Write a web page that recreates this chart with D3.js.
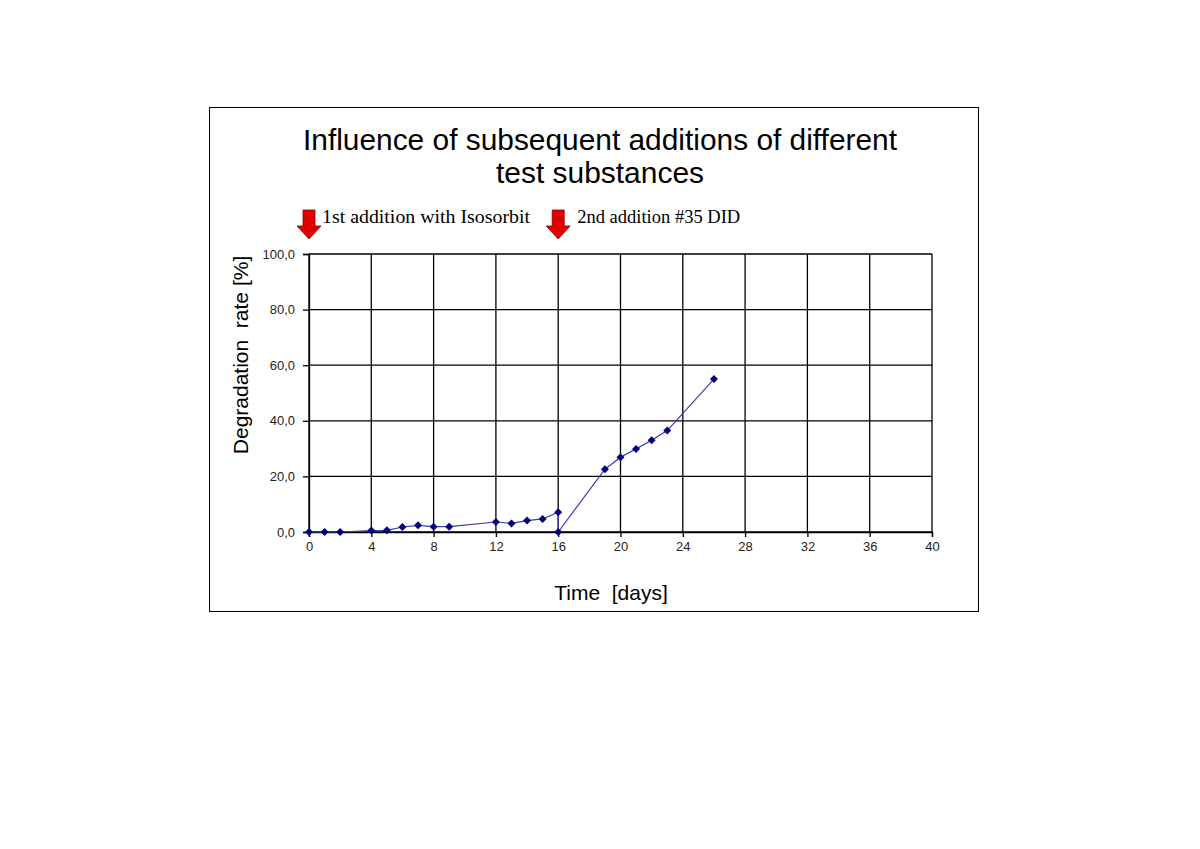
<!DOCTYPE html>
<html>
<head>
<meta charset="utf-8">
<script src="https://cdn.jsdelivr.net/npm/d3@7"></script>
<style>
  body { margin: 0; background: #fff; }
  svg { display: block; }
</style>
</head>
<body>
<div id="chart"></div>
<script>
// data
var days = [0, 1, 2, 4, 5, 6, 7, 8, 9, 12, 13, 14, 15, 16, 16, 19, 20, 21, 22, 23, 26];
var rates = [0, 0, 0, 0.5, 0.6, 1.8, 2.4, 1.9, 1.9, 3.6, 3.1, 4.1, 4.7, 7.1, 0, 22.6, 26.9, 29.9, 33.0, 36.5, 55.0];
var xTicks = [0, 4, 8, 12, 16, 20, 24, 28, 32, 36, 40];
var yTicks = [0, 20, 40, 60, 80, 100];
var additionDays = [0, 16];
var additionLabels = ["1st addition with Isosorbit", "2nd addition #35 DID"];

var W = 1200, H = 849;
var plot = {left: 309, right: 932, top: 254, bottom: 532};
var sans = "Arial, 'Liberation Sans', sans-serif";

var svg = d3.select("#chart").append("svg")
    .attr("width", W).attr("height", H);

// outer frame
svg.append("rect")
    .attr("x", 209.5).attr("y", 107.5)
    .attr("width", 769).attr("height", 504)
    .style("fill", "none").style("stroke", "#000").style("stroke-width", 1);

var x = d3.scaleLinear().domain([0, 40]).range([plot.left, plot.right]);
var y = d3.scaleLinear().domain([0, 100]).range([plot.bottom, plot.top]);

// grid
var grid = svg.append("g").attr("class", "grid");
grid.selectAll(".vl").data(xTicks).enter().append("line")
    .attr("x1", function(d){ return x(d); }).attr("x2", function(d){ return x(d); })
    .attr("y1", plot.top).attr("y2", plot.bottom)
    .style("stroke", "#000").style("stroke-width", 1.3);
grid.selectAll(".hl").data(yTicks).enter().append("line")
    .attr("x1", plot.left).attr("x2", plot.right)
    .attr("y1", function(d){ return y(d); }).attr("y2", function(d){ return y(d); })
    .style("stroke", "#000").style("stroke-width", 1.3);

var fmt = function(d){ return d3.format(".1f")(d).replace(".", ","); };

// axes
var xAxis = svg.append("g")
    .attr("transform", "translate(0," + plot.bottom + ")")
    .call(d3.axisBottom(x).tickValues(xTicks).tickSize(5).tickPadding(5).tickFormat(d3.format("d")));
var yAxis = svg.append("g")
    .attr("transform", "translate(" + plot.left + ",0)")
    .call(d3.axisLeft(y).tickValues(yTicks).tickSize(6).tickPadding(8).tickFormat(fmt));
[xAxis, yAxis].forEach(function(a){
  a.select(".domain").style("stroke", "#000").style("stroke-width", 1.3);
  a.selectAll(".tick line").style("stroke", "#000").style("stroke-width", 1.3);
  a.selectAll("text").style("font-family", sans)
    .style("font-size", "13px").style("fill", "#2a2218");
});

// series
var pts = days.map(function(d, i){ return [d, rates[i]]; });
var line = d3.line().x(function(d){ return x(d[0]); }).y(function(d){ return y(d[1]); });
svg.append("path").datum(pts).attr("d", line)
    .style("fill", "none").style("stroke", "#3c3cae").style("stroke-width", 1.2);
svg.selectAll(".pt").data(pts).enter().append("path")
    .attr("transform", function(d){ return "translate(" + x(d[0]) + "," + y(d[1]) + ") rotate(45)"; })
    .attr("d", d3.symbol().type(d3.symbolSquare).size(32))
    .style("fill", "#000080");

// title
var title = svg.append("text")
    .attr("text-anchor", "middle")
    .style("font-family", sans)
    .style("font-size", "29px").style("fill", "#000");
title.append("tspan").attr("x", 600).attr("y", 150)
    .attr("textLength", 594).attr("lengthAdjust", "spacingAndGlyphs")
    .text("Influence of subsequent additions of different");
title.append("tspan").attr("x", 600).attr("y", 183)
    .attr("textLength", 208).attr("lengthAdjust", "spacingAndGlyphs")
    .text("test substances");

// addition arrows + labels
var arrowPath = "M-6,0 L6,0 L6,16 L12,16 L0,29 L-12,16 L-6,16 Z";
var labelOffsets = [13, 19];
var labelWidths = [208, 163];
additionDays.forEach(function(d, i){
  svg.append("path")
    .attr("transform", "translate(" + x(d) + ",210)")
    .attr("d", arrowPath)
    .style("fill", "#e00000").style("stroke", "#8a0000").style("stroke-width", 0.8);
  svg.append("text")
    .attr("x", x(d) + labelOffsets[i]).attr("y", 223)
    .attr("textLength", labelWidths[i]).attr("lengthAdjust", "spacingAndGlyphs")
    .style("font-family", "'Liberation Serif', 'Times New Roman', serif")
    .style("font-size", "18px").style("fill", "#000")
    .text(additionLabels[i]);
});

// axis titles
svg.append("text")
    .attr("x", 611).attr("y", 600).attr("text-anchor", "middle")
    .style("font-family", sans)
    .style("font-size", "21px").style("fill", "#000")
    .style("white-space", "pre").text("Time  [days]");
svg.append("text")
    .attr("transform", "translate(248,355) rotate(-90)").attr("text-anchor", "middle")
    .style("font-family", sans)
    .style("font-size", "21px").style("fill", "#000")
    .style("white-space", "pre").text("Degradation  rate [%]");
</script>
</body>
</html>
